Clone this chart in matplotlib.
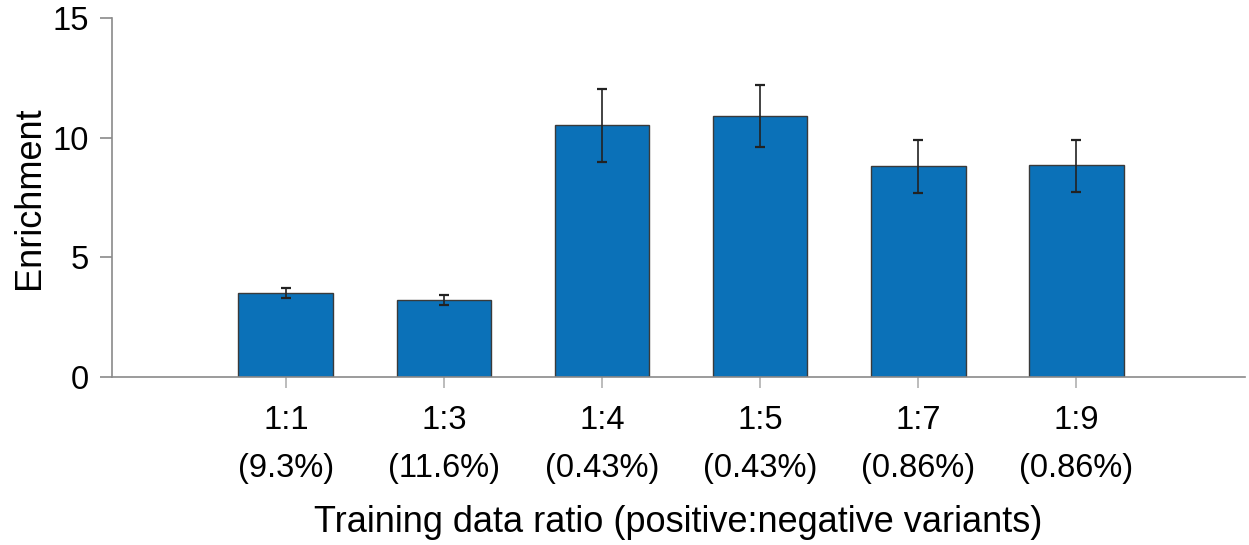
import matplotlib
matplotlib.use("Agg")
import matplotlib.pyplot as plt
import numpy as np

plt.rcParams['font.family'] = ['Liberation Sans', 'DejaVu Sans']

ratios = ["1:1", "1:3", "1:4", "1:5", "1:7", "1:9"]
percents = ["(9.3%)", "(11.6%)", "(0.43%)", "(0.43%)", "(0.86%)", "(0.86%)"]
enrichment = [3.52, 3.22, 10.53, 10.92, 8.80, 8.85]
err_low = [3.30, 3.01, 8.98, 9.61, 7.71, 7.74]
err_high = [3.73, 3.43, 12.04, 12.22, 9.89, 9.90]

fig = plt.figure(figsize=(12.49, 5.45), dpi=100)
ax = fig.add_axes([0.0897, 0.308, 0.9073, 0.659])

x = np.arange(len(ratios))
vals = np.array(enrichment)
yerr = np.array([vals - np.array(err_low), np.array(err_high) - vals])
ax.bar(x, vals, width=0.6, color='#0B71B8', edgecolor='#3a3a3a', linewidth=1.0, zorder=2)
ax.errorbar(x, vals, yerr=yerr, fmt='none', ecolor='#222222', elinewidth=1.2,
            capsize=3.6, capthick=1.6, zorder=3)

ax.set_xlim(-1.10, 6.07)
ax.set_ylim(0, 15)
ax.set_yticks([0, 5, 10, 15])
ax.set_xticks(x)
ax.set_xticklabels([f"{r}\n{p}" for r, p in zip(ratios, percents)], linespacing=1.7)

for s in ['top', 'right']:
    ax.spines[s].set_visible(False)
for s in ['left', 'bottom']:
    ax.spines[s].set_color('#8a8a8a')
    ax.spines[s].set_linewidth(1.2)

ax.tick_params(axis='y', direction='out', length=8.6, width=1.2, color='#8a8a8a',
               labelsize=23.5, pad=8)
ax.tick_params(axis='x', direction='out', length=8, width=1.2, color='#b0b0b0',
               labelsize=23.5, pad=12)

ax.set_ylabel("Enrichment", fontsize=26, labelpad=4)
ax.set_xlabel("Training data ratio (positive:negative variants)", fontsize=26, labelpad=15)

fig.savefig("out.png", dpi=100)
